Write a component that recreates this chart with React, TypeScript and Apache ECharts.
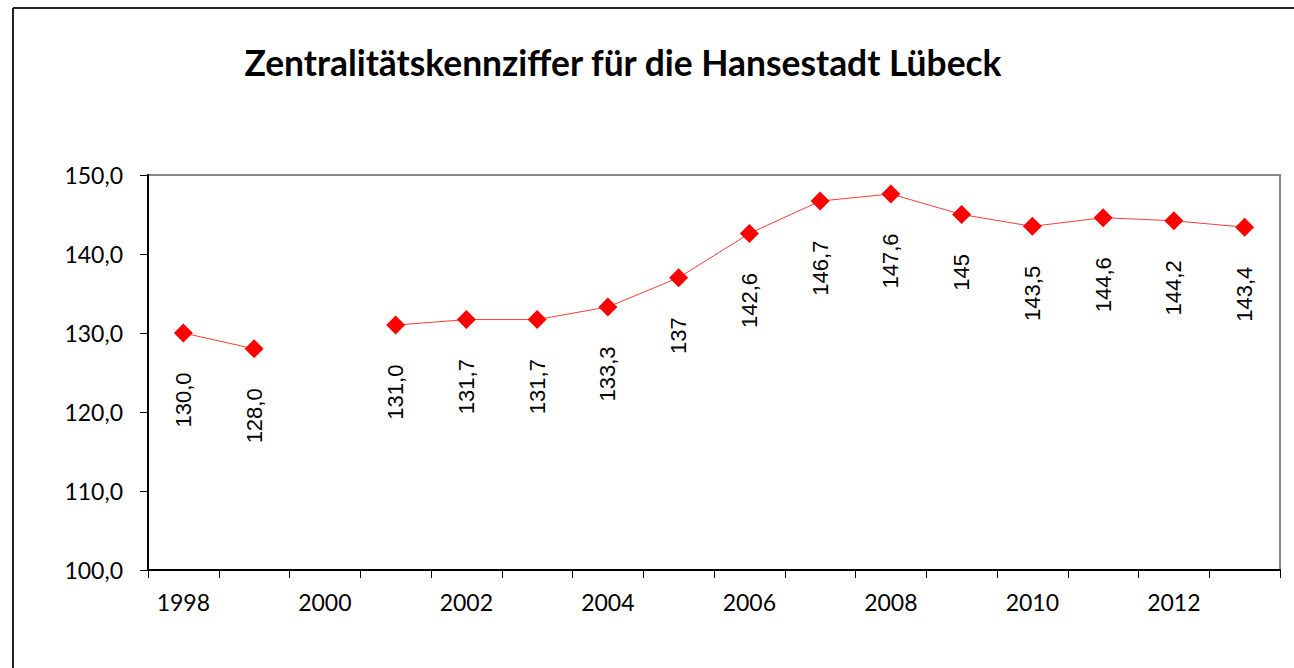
import React, { useEffect, useRef } from "react";
import * as echarts from "echarts";

const years = ["1998", "1999", "2000", "2001", "2002", "2003", "2004", "2005", "2006", "2007", "2008", "2009", "2010", "2011", "2012", "2013"];
const values: (number | null)[] = [130.0, 128.0, null, 131.0, 131.7, 131.7, 133.3, 137, 142.6, 146.7, 147.6, 145, 143.5, 144.6, 144.2, 143.4];
const pointLabels = ["130,0", "128,0", "", "131,0", "131,7", "131,7", "133,3", "137", "142,6", "146,7", "147,6", "145", "143,5", "144,6", "144,2", "143,4"];
const titleText = "Zentralitätskennziffer für die Hansestadt Lübeck";

export default function App() {
  const ref = useRef<HTMLDivElement>(null);
  useEffect(() => {
    if (!ref.current) return;
    const chart = echarts.init(ref.current, null, { renderer: "svg" });
    chart.setOption({
      animation: false,
      backgroundColor: "#ffffff",
      graphic: [
        { type: "line", shape: { x1: 13, y1: 8, x2: 1294, y2: 8 }, style: { stroke: "#222", lineWidth: 2 } },
        { type: "line", shape: { x1: 13, y1: 8, x2: 13, y2: 668 }, style: { stroke: "#222", lineWidth: 2 } },
        {
          type: "text",
          x: 623,
          y: 62,
          style: {
            text: titleText,
            font: "bold 35.4px Lato, 'Noto Sans', sans-serif",
            fill: "#000",
            textAlign: "center",
            textVerticalAlign: "middle",
          },
        },
      ],
      grid: {
        left: 148,
        top: 175,
        right: 14,
        bottom: 98,
        show: true,
        borderColor: "#888",
        borderWidth: 2,
        backgroundColor: "#fff",
      },
      xAxis: {
        type: "category",
        data: years,
        boundaryGap: true,
        axisLine: { show: true, lineStyle: { color: "#000", width: 2 } },
        axisTick: { show: true, interval: 0, length: 8, inside: false, lineStyle: { color: "#000", width: 1 } },
        axisLabel: {
          interval: 1,
          margin: 20,
          color: "#000",
          fontSize: 23,
          fontFamily: "Lato, 'Noto Sans', sans-serif",
        },
        splitLine: { show: false },
      },
      yAxis: {
        type: "value",
        min: 100,
        max: 150,
        interval: 10,
        axisLine: { show: true, lineStyle: { color: "#000", width: 2 } },
        axisTick: { show: true, length: 8, lineStyle: { color: "#000", width: 1 } },
        axisLabel: {
          margin: 25,
          color: "#000",
          fontSize: 23,
          fontFamily: "Lato, 'Noto Sans', sans-serif",
          formatter: (v: number) => v.toFixed(1).replace(".", ","),
        },
        splitLine: { show: false },
      },
      series: [
        {
          type: "line",
          data: values,
          connectNulls: false,
          symbol: "diamond",
          symbolSize: 19,
          itemStyle: { color: "#ff0000" },
          lineStyle: { color: "#ff3b3b", width: 1 },
          label: {
            show: true,
            position: "bottom",
            distance: 30,
            rotate: 90,
            align: "right",
            verticalAlign: "middle",
            color: "#000",
            fontSize: 22,
            fontFamily: "'Liberation Sans', Arial, sans-serif",
            formatter: (p: any) => pointLabels[p.dataIndex],
          },
        },
      ],
    });
    return () => chart.dispose();
  }, []);
  return <div ref={ref} style={{ position: "fixed", left: 0, top: 0, width: 1294, height: 668 }} />;
}
